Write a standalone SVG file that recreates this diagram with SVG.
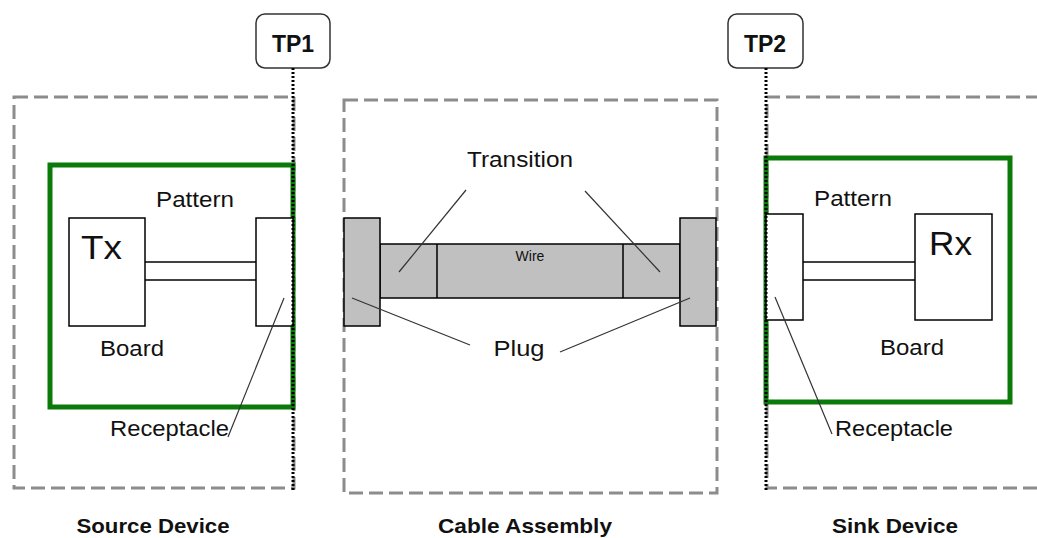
<svg xmlns="http://www.w3.org/2000/svg" width="1037" height="538" viewBox="0 0 1037 538">
<style>
.dash{fill:none;stroke:#8c8c8c;stroke-width:3;stroke-dasharray:14,6}
.green{fill:none;stroke:#0a7a0a;stroke-width:5}
.box{fill:#fff;stroke:#000;stroke-width:1.5}
.grey{fill:#c0c0c0;stroke:#000;stroke-width:1.5}
.tp{fill:#fff;stroke:#333;stroke-width:1.5}
.dot{stroke:#000;stroke-width:3;stroke-dasharray:2,2;fill:none}
.lead{stroke:#333;stroke-width:1.2;fill:none}
.t{font-family:"Liberation Sans",Arial,sans-serif;font-size:22px;fill:#111}
.b{font-family:"Liberation Sans",Arial,sans-serif;font-weight:bold;fill:#111}
</style>
<rect width="1037" height="538" fill="#fff"/>
<g id="source-device">
<rect class="dash" x="14" y="97" width="280" height="391"/>
<rect class="green" x="50" y="165" width="243" height="242"/>
<rect class="box" x="69" y="218" width="76" height="108"/>
<text class="t" x="81" y="259" style="font-size:34px" textLength="41" lengthAdjust="spacingAndGlyphs">Tx</text>
<line x1="145" y1="262" x2="256" y2="262" stroke="#000" stroke-width="1.5"/>
<line x1="145" y1="280" x2="256" y2="280" stroke="#000" stroke-width="1.5"/>
<rect class="box" x="256" y="218" width="37" height="108"/>
<text class="t" x="156" y="207" textLength="78" lengthAdjust="spacingAndGlyphs">Pattern</text>
<text class="t" x="100" y="356" textLength="64" lengthAdjust="spacingAndGlyphs">Board</text>
<text class="t" x="110" y="436" textLength="119" lengthAdjust="spacingAndGlyphs">Receptacle</text>
</g>
<g id="tp1">
<rect class="tp" x="256" y="14" width="74" height="54" rx="9"/>
<text class="b" x="293" y="52" text-anchor="middle" font-size="23">TP1</text>
</g>
<g id="cable-assembly">
<rect class="dash" x="344" y="100" width="373" height="393"/>
<rect class="grey" x="380" y="244" width="300" height="54"/>
<line x1="437" y1="244" x2="437" y2="298" stroke="#000" stroke-width="1.5"/>
<line x1="623" y1="244" x2="623" y2="298" stroke="#000" stroke-width="1.5"/>
<rect class="grey" x="344" y="218" width="36" height="108"/>
<rect class="grey" x="680" y="218" width="36" height="108"/>
<text class="t" x="530" y="261" text-anchor="middle" style="font-size:14px">Wire</text>
<text class="t" x="520" y="167" text-anchor="middle" textLength="106" lengthAdjust="spacingAndGlyphs">Transition</text>
<text class="t" x="519" y="356" text-anchor="middle" textLength="51" lengthAdjust="spacingAndGlyphs">Plug</text>
</g>
<g id="tp2">
<rect class="tp" x="728" y="14" width="75" height="54" rx="9"/>
<text class="b" x="765" y="52" text-anchor="middle" font-size="23">TP2</text>
</g>
<g id="sink-device">
<path class="dash" d="M1040 97 H767 V488 H1040"/>
<rect class="green" x="766" y="158" width="244" height="244"/>
<rect class="box" x="766" y="214" width="37" height="106"/>
<rect class="box" x="915" y="214" width="77" height="106"/>
<text class="t" x="929" y="255" style="font-size:34px" textLength="43" lengthAdjust="spacingAndGlyphs">Rx</text>
<line x1="803" y1="262" x2="915" y2="262" stroke="#000" stroke-width="1.5"/>
<line x1="803" y1="280" x2="915" y2="280" stroke="#000" stroke-width="1.5"/>
<text class="t" x="814" y="206" textLength="78" lengthAdjust="spacingAndGlyphs">Pattern</text>
<text class="t" x="880" y="355" textLength="64" lengthAdjust="spacingAndGlyphs">Board</text>
<text class="t" x="835" y="436" textLength="118" lengthAdjust="spacingAndGlyphs">Receptacle</text>
</g>
<g id="connectors">
<line class="dot" x1="293" y1="68" x2="293" y2="490"/>
<line class="dot" x1="766" y1="68" x2="766" y2="490"/>
<line class="lead" x1="284" y1="298" x2="228" y2="437"/>
<line class="lead" x1="775" y1="297" x2="832" y2="434"/>
<line class="lead" x1="466" y1="190" x2="399" y2="272"/>
<line class="lead" x1="585" y1="191" x2="660" y2="272"/>
<line class="lead" x1="352" y1="298" x2="470" y2="345"/>
<line class="lead" x1="690" y1="298" x2="560" y2="352"/>
</g>
<g id="labels">
<text class="b" x="153" y="533" text-anchor="middle" font-size="21" textLength="153" lengthAdjust="spacingAndGlyphs">Source Device</text>
<text class="b" x="525" y="533" text-anchor="middle" font-size="21" textLength="174" lengthAdjust="spacingAndGlyphs">Cable Assembly</text>
<text class="b" x="895" y="533" text-anchor="middle" font-size="21" textLength="126" lengthAdjust="spacingAndGlyphs">Sink Device</text>
</g>
</svg>
